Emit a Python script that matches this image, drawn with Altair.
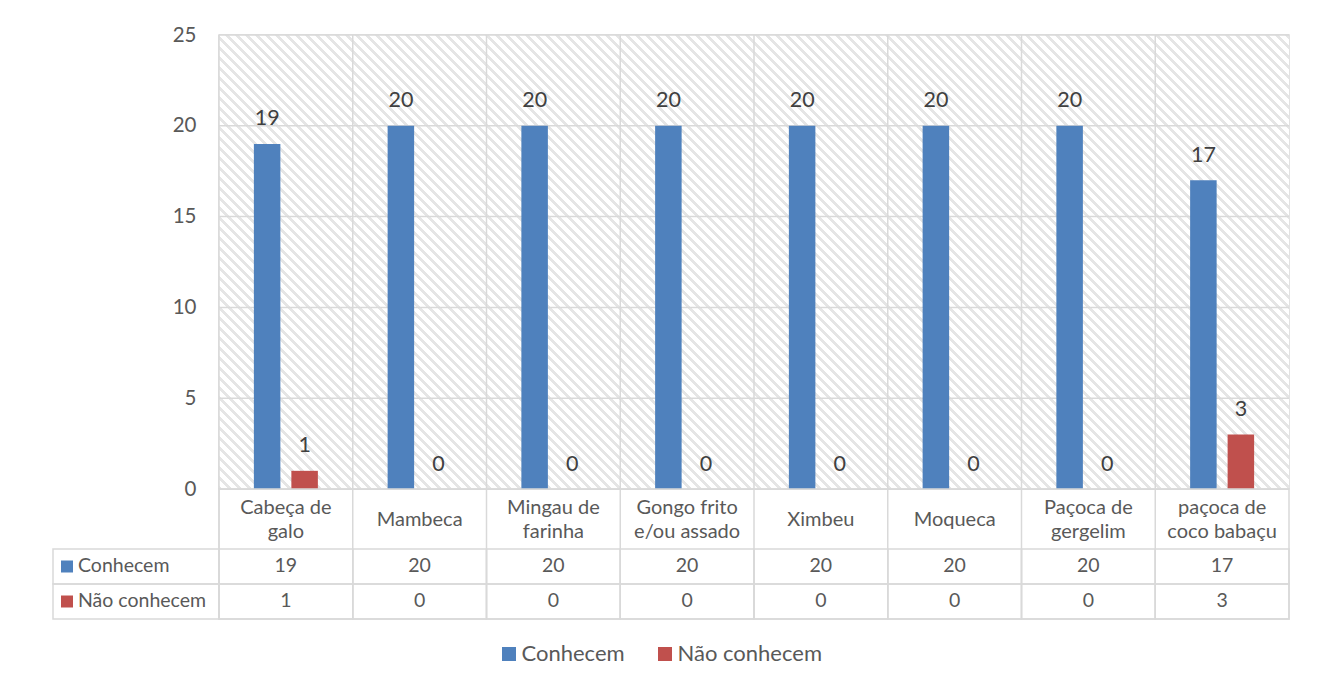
import math
import altair as alt
import pandas as pd

# ---------------- data ----------------
categories = [
    "Cabeça de\ngalo",
    "Mambeca",
    "Mingau de\nfarinha",
    "Gongo frito\ne/ou assado",
    "Ximbeu",
    "Moqueca",
    "Paçoca de\ngergelim",
    "paçoca de\ncoco babaçu",
]
series_names = ["Conhecem", "Não conhecem"]
conhecem = [19, 20, 20, 20, 20, 20, 20, 17]
nao_conhecem = [1, 0, 0, 0, 0, 0, 0, 3]
y_ticks = [0, 5, 10, 15, 20, 25]
colors = ["#4f81bd", "#c0504d"]

rows = []
for c, a, b in zip(categories, conhecem, nao_conhecem):
    rows.append({"cat": c, "serie": "Conhecem", "valor": a})
    rows.append({"cat": c, "serie": "Não conhecem", "valor": b})
df = pd.DataFrame(rows)
df_cats = pd.DataFrame({"cat": categories})
df_ticks = pd.DataFrame({"t": y_ticks})
df_series = pd.DataFrame({"serie": series_names})
df_one = pd.DataFrame({"k": [0]})

# ---------------- layout / style ----------------
W, H = 1070, 454
TABLE_H = 130
GRID = "#d9d9d9"
TXT = "#595959"
FONT = "Lato"

# diagonal hatch for the plot area (styling only)
r = H / W
s = (1 + r) / (1 + r * r)
L = (W + H) / math.sqrt(2)
period, stripe = 7.07, 2.8
HATCH = "#e5e5e5"
stops = []
k = 0
while True:
    a = k * period / L
    if a >= 1:
        break
    b = min((k * period + stripe) / L, 1)
    c = min(((k + 1) * period) / L, 1)
    stops += [
        alt.GradientStop(offset=a, color=HATCH),
        alt.GradientStop(offset=b, color=HATCH),
        alt.GradientStop(offset=b, color="#ffffff"),
        alt.GradientStop(offset=c, color="#ffffff"),
    ]
    k += 1
hatch = alt.LinearGradient(gradient="linear", stops=stops, x1=0, y1=1, x2=s, y2=1 - r * s)

x_scale = alt.Scale(domain=categories, paddingInner=0, paddingOuter=0)
x_axis = alt.Axis(
    title=None, labelExpr="split(datum.label, '\\n')", labelPadding=30,
    labelBaseline={"condition": {"test": "indexof(datum.value, '\\n') >= 0", "value": "line-bottom"},
                   "value": "middle"},
    labelFontSize=20, labelColor=TXT, labelLineHeight=24,
    domain=False, ticks=False, grid=False, labelAngle=0,
)
y_scale = alt.Scale(domain=[0, 25], nice=False)
y_axis = alt.Axis(values=y_ticks, title=None, grid=False, domain=False, ticks=False,
                  labelPadding=23, labelFontSize=20.5, labelColor=TXT)
color_scale = alt.Scale(domain=series_names, range=colors)
xoff = alt.XOffset("serie:N", sort=series_names,
                   scale=alt.Scale(domain=series_names, paddingInner=0.293, paddingOuter=0.93))

bg = alt.Chart(df_one).mark_rect(fill=hatch, strokeWidth=0).encode(
    x=alt.value(0), x2=alt.value("width"), y=alt.value(0), y2=alt.value("height")
)
hgrid = alt.Chart(df_ticks).mark_rule(color=GRID, strokeWidth=1.5).encode(
    y=alt.Y("t:Q", scale=y_scale, axis=y_axis)
)
vgrid = alt.Chart(df_cats).mark_rule(color=GRID, strokeWidth=1.5).encode(
    x=alt.X("cat:N", sort=categories, scale=x_scale, axis=x_axis, bandPosition=0)
)
bars = alt.Chart(df).mark_bar().encode(
    x=alt.X("cat:N", sort=categories, scale=x_scale, axis=x_axis),
    xOffset=xoff,
    y=alt.Y("valor:Q", scale=y_scale, axis=y_axis),
    color=alt.Color("serie:N", scale=color_scale, legend=None),
)
labels = alt.Chart(df).mark_text(baseline="alphabetic", dy=-18.5, fontSize=21.5, color="#404040").encode(
    x=alt.X("cat:N", sort=categories, scale=x_scale, axis=x_axis),
    xOffset=xoff,
    y=alt.Y("valor:Q", scale=y_scale, axis=y_axis),
    text="valor:Q",
)
main = alt.layer(bg, hgrid, vgrid, bars, labels).properties(width=W, height=H)

# ---------------- data table ----------------
y_t = alt.Y("serie:N", sort=series_names,
            scale=alt.Scale(domain=series_names, paddingInner=0, paddingOuter=0.857, align=1),
            axis=None)
x_t = alt.X("cat:N", sort=categories, scale=x_scale, axis=None)

t_vlines = alt.Chart(df_cats).mark_rule(color=GRID, strokeWidth=1.5).encode(
    x=alt.X("cat:N", sort=categories, scale=x_scale, axis=None, bandPosition=0)
)
t_cells = alt.Chart(df).mark_rect(filled=False, stroke=GRID, strokeWidth=1.5).encode(x=x_t, y=y_t)
t_head = alt.Chart(df_series).mark_rect(filled=False, stroke=GRID, strokeWidth=1.5).encode(
    x=alt.value(-166), x2=alt.value(0), y=y_t
)
t_swatch = alt.Chart(df_series).mark_square(size=144, filled=True, opacity=1).encode(
    x=alt.value(-152), y=y_t,
    color=alt.Color(
        "serie:N", scale=color_scale,
        legend=alt.Legend(
            orient="none", legendX=279, legendY=154, direction="horizontal", title=None,
            symbolType="square", symbolSize=196, symbolStrokeWidth=0, labelFontSize=22,
            labelColor=TXT, columnPadding=29, labelOffset=1.5, padding=0,
        ),
    ),
)
t_headtxt = alt.Chart(df_series).mark_text(align="left", fontSize=19.5, color=TXT).encode(
    x=alt.value(-141), y=y_t, text="serie:N"
)
t_vals = alt.Chart(df).mark_text(fontSize=19.5, color=TXT).encode(x=x_t, y=y_t, text="valor:Q")

table = alt.layer(t_vlines, t_cells, t_head, t_swatch, t_headtxt, t_vals).properties(
    width=W, height=TABLE_H
)

chart = (
    alt.vconcat(main, table, spacing=0, bounds="flush")
    .resolve_legend(color="independent")
    .properties(padding={"left": 43, "top": 16, "right": 5, "bottom": 5})
    .configure(font=FONT)
    .configure_view(stroke=GRID, strokeWidth=1.5)
)

chart.save("out.html", embed_options={"renderer": "svg", "actions": False})
